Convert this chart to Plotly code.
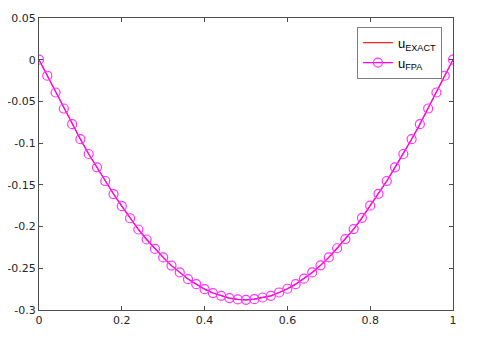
import plotly.graph_objects as go

x_vals = [i / 50 for i in range(51)]

u_fpa = [0.0, -0.0192, -0.0393, -0.0585, -0.0773, -0.0953, -0.113, -0.129, -0.1454, -0.161,
         -0.1755, -0.190, -0.2035, -0.2155, -0.2268, -0.237, -0.2468, -0.255, -0.263, -0.269,
         -0.275, -0.2797, -0.283, -0.2857, -0.2873, -0.2878, -0.287, -0.285, -0.283, -0.279,
         -0.2745, -0.269, -0.2625, -0.255, -0.2465, -0.237, -0.226, -0.215, -0.203, -0.1895,
         -0.175, -0.1607, -0.1454, -0.129, -0.113, -0.0953, -0.0773, -0.0585, -0.0393, -0.0192, 0.0]
u_exact = list(u_fpa)

x_ticks = [0, 0.2, 0.4, 0.6, 0.8, 1]
x_labels = ['0', '0.2', '0.4', '0.6', '0.8', '1']
y_ticks = [-0.3, -0.25, -0.2, -0.15, -0.1, -0.05, 0, 0.05]
y_labels = ['-0.3', '-0.25', '-0.2', '-0.15', '-0.1', '-0.05', '0', '0.05']

fig = go.Figure()
fig.add_trace(go.Scatter(
    x=x_vals, y=u_exact, mode='lines', name='u<sub>EXACT</sub>',
    line=dict(color='#ff2020', width=1.2)
))
fig.add_trace(go.Scatter(
    x=x_vals, y=u_fpa, mode='lines+markers', name='u<sub>FPA</sub>',
    line=dict(color='#ff00ff', width=1.2),
    marker=dict(symbol='circle-open', size=9, color='#ff33ff', line=dict(width=1.2))
))

axis_style = dict(
    showline=True, mirror='ticks', linecolor='#4d4d4d', linewidth=1,
    ticks='inside', ticklen=4, tickcolor='#4d4d4d',
    showgrid=False, zeroline=False, automargin=False,
    tickfont=dict(family='DejaVu Sans', size=11, color='#262626'),
)

# page body keeps its default 8px margin, so the figure is sized to fit inside it
fig.update_layout(
    width=464, height=335,
    margin=dict(l=31, r=19, t=10, b=33),
    paper_bgcolor='white', plot_bgcolor='white',
    showlegend=True,
    legend=dict(
        x=0.768, y=0.97, xanchor='left', yanchor='top',
        bgcolor='white', bordercolor='#7f7f7f', borderwidth=1,
        font=dict(family='Liberation Sans, Arial', size=13, color='#000000'),
        tracegroupgap=0,
    ),
)
fig.update_xaxes(range=[0, 1], tickvals=x_ticks, ticktext=x_labels, **axis_style)
fig.update_yaxes(range=[-0.3, 0.05], tickvals=y_ticks, ticktext=y_labels, **axis_style)

fig.write_html("out.html")
